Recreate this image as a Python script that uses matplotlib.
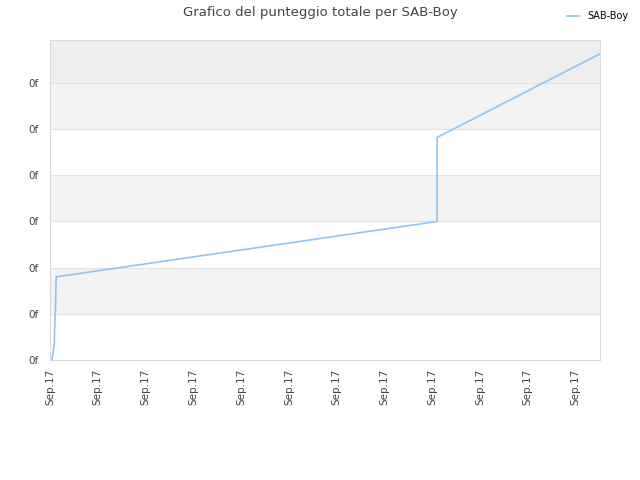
import numpy as np
import matplotlib.pyplot as plt

# score over time (x in tick units, y in tick units)
days = [0.04, 0.07, 0.09, 0.10, 0.11, 0.12, 0.13, 8.10, 8.10, 11.51]
score = [0.0, 0.2, 0.35, 0.8, 1.0, 1.3, 1.8, 3.0, 4.82, 6.63]
x_labels = ["Sep.17"] * 12
y_labels = ["0f"] * 7

fig = plt.figure(figsize=(6.4, 4.8), dpi=100)
ax = fig.add_axes([50 / 640, 120 / 480, 550 / 640, 320 / 480])

ax.set_xlim(0, 11.51)
ax.set_ylim(0, 6.93)

# alternating bands
for i in range(7):
    if i % 2 == 1:
        ax.axhspan(i, i + 1, color="#f3f3f3", zorder=0, lw=0)
ax.axhspan(6, 6.93, color="#eeeeee", zorder=0, lw=0)
for i in range(1, 7):
    ax.axhline(i, color="#e2e2e2", lw=0.8, zorder=1)

ax.plot(days, score, color="#92c4f4", lw=1.2, label="SAB-Boy", zorder=3)

ax.set_xticks(range(12))
ax.set_xticklabels(x_labels, rotation=90, fontsize=7.5, color="#444444")
ax.set_yticks(range(7))
ax.set_yticklabels(y_labels, fontsize=7.5, color="#444444")
ax.tick_params(axis="x", length=0, pad=6)
ax.tick_params(axis="y", length=0, pad=8)

for s in ax.spines.values():
    s.set_color("#d8d8d8")
    s.set_linewidth(0.8)

fig.text(0.5, 0.988, "Grafico del punteggio totale per SAB-Boy", ha="center", va="top",
         fontsize=9.5, color="#444444")
fig.legend(loc="upper right", bbox_to_anchor=(0.995, 0.995), frameon=False, fontsize=7,
           handlelength=1.2)

fig.savefig("out.png", dpi=100)
